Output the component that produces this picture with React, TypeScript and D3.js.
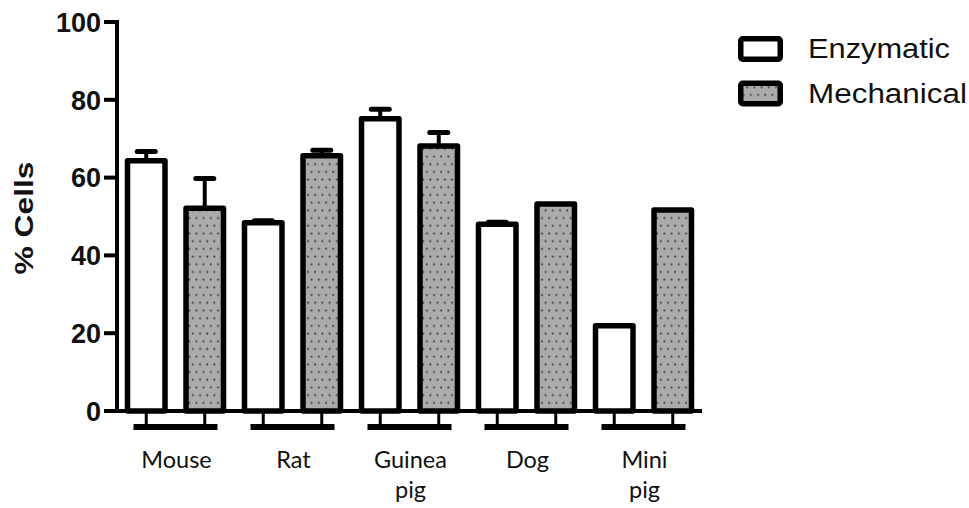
import React from "react";
import * as d3 from "d3";

const categories = ["Mouse", "Rat", "Guinea pig", "Dog", "Mini pig"];
const categoryLines = [["Mouse"], ["Rat"], ["Guinea", "pig"], ["Dog"], ["Mini", "pig"]];
const series = ["Enzymatic", "Mechanical"];
const enzymatic = [64.3, 48.4, 75.1, 48.0, 21.9];
const enzymaticErr = [2.4, 0.5, 2.5, 0.5, 0];
const mechanical = [52.1, 65.6, 68.1, 53.2, 51.7];
const mechanicalErr = [7.7, 1.4, 3.5, 0, 0];
const yTicks = [0, 20, 40, 60, 80, 100];

const W = 969;
const H = 508;

export default function App() {
  const y = d3.scaleLinear().domain([0, 100]).range([411, 22]);
  const x0 = d3.scaleBand<string>().domain(categories).range([117, 702]).padding(0);
  const x1 = d3
    .scaleBand<string>()
    .domain(series)
    .range([0, x0.bandwidth()])
    .paddingInner(0.265)
    .paddingOuter(0.1325);
  const bw = x1.bandwidth();
  const sw = 5.5;
  const values = [enzymatic, mechanical];
  const errs = [enzymaticErr, mechanicalErr];
  const fills = ["#ffffff", "url(#dots)"];

  return (
    <svg width={W} height={H} style={{ position: "absolute", left: 0, top: 0, background: "#fff" }}>
      <defs>
        <pattern id="dots" width={7.2} height={15.4} patternUnits="userSpaceOnUse">
          <rect width={7.2} height={15.4} fill="#ababab" />
          <circle cx={2} cy={2.5} r={1.05} fill="#3a3a3a" />
          <circle cx={5.6} cy={10.2} r={1.05} fill="#3a3a3a" />
        </pattern>
      </defs>

      {/* y axis */}
      <line x1={117} x2={117} y1={y(100) - 2} y2={y(0) + 2} stroke="#000" strokeWidth={4} />
      {yTicks.map((t) => (
        <g key={t}>
          <line x1={104} x2={117} y1={y(t)} y2={y(t)} stroke="#000" strokeWidth={4} />
          <text
            x={101}
            y={y(t)}
            dy="0.36em"
            textAnchor="end"
            fontFamily="Liberation Sans, Arial, sans-serif"
            fontWeight="bold"
            fontSize={27}
            fill="#111"
          >
            {t}
          </text>
        </g>
      ))}
      <text
        transform="translate(33,218) rotate(-90)"
        textAnchor="middle"
        fontFamily="Liberation Sans, Arial, sans-serif"
        fontWeight="bold"
        fontSize={26}
        textLength={113}
        lengthAdjust="spacingAndGlyphs"
        fill="#111"
      >
        % Cells
      </text>

      {/* bars */}
      {categories.map((c, i) => (
        <g key={c}>
          {series.map((s, j) => {
            const v = values[j][i];
            const e = errs[j][i];
            const bx = (x0(c) as number) + (x1(s) as number);
            const cx = bx + bw / 2;
            return (
              <g key={s}>
                {e > 0 && (
                  <g>
                    <line x1={cx} x2={cx} y1={y(v)} y2={y(v + e)} stroke="#000" strokeWidth={4} />
                    <line
                      x1={cx - 9}
                      x2={cx + 9}
                      y1={y(v + e)}
                      y2={y(v + e)}
                      stroke="#000"
                      strokeWidth={5}
                      strokeLinecap="round"
                    />
                  </g>
                )}
                <rect
                  x={bx + sw / 2}
                  y={y(v)}
                  width={bw - sw}
                  height={y(0) - y(v)}
                  fill={fills[j]}
                  stroke="#000"
                  strokeWidth={sw}
                  strokeLinejoin="round"
                />
              </g>
            );
          })}
        </g>
      ))}

      {/* x axis */}
      <line x1={115} x2={702} y1={y(0)} y2={y(0)} stroke="#000" strokeWidth={4} />
      {categories.map((c, i) => {
        const gx = (x0(c) as number) + x0.bandwidth() / 2;
        return (
          <g key={"x" + c}>
            {series.map((s) => {
              const cx = (x0(c) as number) + (x1(s) as number) + bw / 2;
              return <line key={s} x1={cx} x2={cx} y1={y(0)} y2={427} stroke="#000" strokeWidth={3} />;
            })}
            <line x1={gx - 42} x2={gx + 42} y1={427} y2={427} stroke="#000" strokeWidth={6} />
            {categoryLines[i].map((ln, k) => (
              <text
                key={k}
                x={gx + 1}
                y={468 + k * 30}
                textAnchor="middle"
                fontFamily="Lato, Open Sans, sans-serif"
                fontSize={23.5}
                fill="#111"
              >
                {ln}
              </text>
            ))}
          </g>
        );
      })}

      {/* legend */}
      {series.map((s, j) => (
        <g key={"lg" + s}>
          <rect
            x={738 + sw / 2}
            y={36 + j * 44.5 + sw / 2}
            width={45 - sw}
            height={26 - sw}
            fill={fills[j]}
            stroke="#000"
            strokeWidth={sw}
            rx={2}
          />
          <text
            x={808}
            y={58 + j * 45}
            fontFamily="Liberation Sans, Arial, sans-serif"
            fontSize={27}
            textLength={j === 0 ? 142 : 159}
            lengthAdjust="spacingAndGlyphs"
            fill="#111"
          >
            {s}
          </text>
        </g>
      ))}
    </svg>
  );
}
